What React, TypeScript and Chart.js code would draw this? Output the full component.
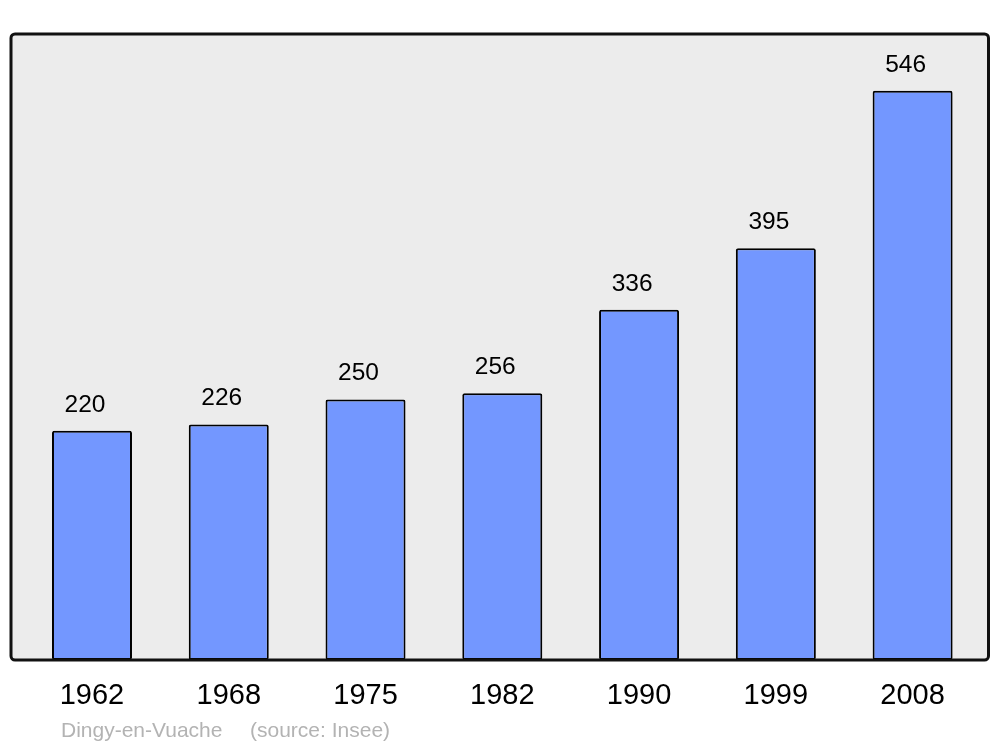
import React, { useEffect, useRef } from "react";
import { Chart, registerables } from "chart.js";

Chart.register(...registerables);

const years = ["1962", "1968", "1975", "1982", "1990", "1999", "2008"];
const population = [220, 226, 250, 256, 336, 395, 546];
const sourceName = "Dingy-en-Vuache";
const sourceNote = "(source: Insee)";

const FONT = "'Liberation Sans', Arial, sans-serif";

const framePlugin = {
  id: "frame",
  beforeDatasetsDraw(chart: any) {
    const { ctx, chartArea } = chart;
    const l = chartArea.left - 12.6;
    const r = chartArea.right + 7.5;
    const t = chartArea.top;
    const b = chartArea.bottom;
    ctx.save();
    ctx.beginPath();
    ctx.roundRect(l, t, r - l, b - t, 4);
    ctx.fillStyle = "#ececec";
    ctx.fill();
    ctx.restore();
  },
  afterDatasetsDraw(chart: any) {
    const { ctx, chartArea } = chart;
    const l = chartArea.left - 12.6;
    const r = chartArea.right + 7.5;
    const t = chartArea.top;
    const b = chartArea.bottom;
    ctx.save();
    ctx.beginPath();
    ctx.roundRect(l, t, r - l, b - t, 4);
    ctx.lineWidth = 3;
    ctx.strokeStyle = "#111111";
    ctx.stroke();
    // value labels
    const meta = chart.getDatasetMeta(0);
    ctx.fillStyle = "#000000";
    ctx.font = `24.5px ${FONT}`;
    ctx.textAlign = "center";
    ctx.textBaseline = "alphabetic";
    meta.data.forEach((bar: any, i: number) => {
      ctx.fillText(String(chart.data.datasets[0].data[i]), bar.x - 7, bar.y - 19);
    });
    // source
    ctx.fillStyle = "#b3b3b3";
    ctx.font = `21px ${FONT}`;
    ctx.textAlign = "left";
    ctx.fillText(sourceName, 61, 737);
    ctx.fillText(sourceNote, 250, 737);
    ctx.restore();
  },
};

export default function App() {
  const canvasRef = useRef<HTMLCanvasElement | null>(null);

  useEffect(() => {
    if (!canvasRef.current) return;
    const chart = new Chart(canvasRef.current, {
      type: "bar",
      data: {
        labels: years,
        datasets: [
          {
            data: population,
            backgroundColor: "#7397ff",
            borderColor: "#000000",
            borderWidth: 2,
            borderRadius: 2,
            borderSkipped: false,
            barPercentage: 0.585,
            categoryPercentage: 1,
          },
        ],
      },
      options: {
        responsive: false,
        animation: false,
        layout: { padding: { left: 23.6, right: 19, top: 34, bottom: 14.2 } },
        plugins: {
          legend: { display: false },
          tooltip: { enabled: false },
          title: { display: false },
        },
        scales: {
          x: {
            grid: { display: false, drawTicks: false },
            border: { display: false },
            ticks: {
              color: "#000000",
              font: { family: FONT, size: 29 },
              padding: 19,
              maxRotation: 0,
            },
          },
          y: {
            display: false,
            min: 0,
            max: 600.5,
          },
        },
      },
      plugins: [framePlugin],
    });
    return () => chart.destroy();
  }, []);

  return (
    <div style={{ position: "absolute", left: 0, top: 0, width: 1000, height: 747, background: "#ffffff" }}>
      <canvas ref={canvasRef} width={1000} height={747} />
    </div>
  );
}
